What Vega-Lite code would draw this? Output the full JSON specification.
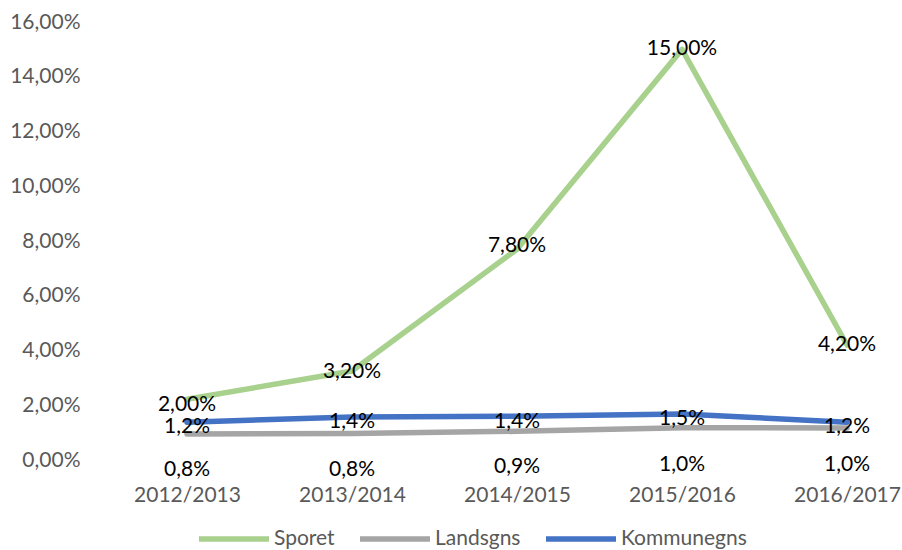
{
  "$schema": "https://vega.github.io/schema/vega-lite/v6.json",
  "width": 800,
  "height": 438,
  "autosize": {"type": "none"},
  "padding": {"left": 90, "top": 22, "right": 12, "bottom": 90},
  "background": "white",
  "config": {"view": {"stroke": null}, "font": "Lato"},
  "data": {"values": [
    {"period": "2012/2013", "series": "Sporet", "value": 2.22, "labelValue": 2.0, "label": "2,00%"},
    {"period": "2013/2014", "series": "Sporet", "value": 3.25, "labelValue": 3.2, "label": "3,20%"},
    {"period": "2014/2015", "series": "Sporet", "value": 7.7, "labelValue": 7.8, "label": "7,80%"},
    {"period": "2015/2016", "series": "Sporet", "value": 15.0, "labelValue": 15.0, "label": "15,00%"},
    {"period": "2016/2017", "series": "Sporet", "value": 4.2, "labelValue": 4.2, "label": "4,20%"},
    {"period": "2012/2013", "series": "Landsgns", "value": 0.95, "labelValue": 0.8, "label": "0,8%"},
    {"period": "2013/2014", "series": "Landsgns", "value": 0.97, "labelValue": 0.8, "label": "0,8%"},
    {"period": "2014/2015", "series": "Landsgns", "value": 1.05, "labelValue": 0.9, "label": "0,9%"},
    {"period": "2015/2016", "series": "Landsgns", "value": 1.18, "labelValue": 1.0, "label": "1,0%"},
    {"period": "2016/2017", "series": "Landsgns", "value": 1.17, "labelValue": 1.0, "label": "1,0%"},
    {"period": "2012/2013", "series": "Kommunegns", "value": 1.38, "labelValue": 1.2, "label": "1,2%"},
    {"period": "2013/2014", "series": "Kommunegns", "value": 1.57, "labelValue": 1.4, "label": "1,4%"},
    {"period": "2014/2015", "series": "Kommunegns", "value": 1.6, "labelValue": 1.4, "label": "1,4%"},
    {"period": "2015/2016", "series": "Kommunegns", "value": 1.68, "labelValue": 1.5, "label": "1,5%"},
    {"period": "2016/2017", "series": "Kommunegns", "value": 1.38, "labelValue": 1.2, "label": "1,2%"}
  ]},
  "encoding": {
    "x": {
      "field": "period", "type": "ordinal",
      "scale": {"type": "point", "range": [97, 757], "padding": 0},
      "axis": {"title": null, "domain": false, "ticks": false, "labelAngle": 0, "labelPadding": 24,
               "labelFontSize": 21, "labelColor": "#595959", "labelFont": "Lato"}
    }
  },
  "layer": [
    {
      "mark": {"type": "line", "strokeWidth": 5.5, "strokeCap": "round", "strokeJoin": "round"},
      "encoding": {
        "y": {"field": "value", "type": "quantitative",
              "scale": {"domain": [0, 16], "nice": false},
              "axis": {"title": null, "values": [0, 2, 4, 6, 8, 10, 12, 14, 16], "grid": false,
                       "domain": false, "ticks": false, "labelPadding": 10, "labelFontSize": 21,
                       "labelColor": "#595959", "labelFont": "Lato",
                       "labelExpr": "replace(format(datum.value, '.2f'), '.', ',') + '%'"}},
        "color": {"field": "series", "type": "nominal",
                  "scale": {"domain": ["Sporet", "Landsgns", "Kommunegns"],
                            "range": ["#a9d18e", "#a5a5a5", "#4472c4"]},
                  "legend": {"title": null, "orient": "none", "direction": "horizontal",
                             "legendX": 106, "legendY": 479, "symbolType": "stroke",
                             "symbolSize": 4900, "symbolStrokeWidth": 5.5, "labelFontSize": 21,
                             "labelColor": "#595959", "labelFont": "Lato", "columnPadding": 14,
                             "labelOffset": 2}},
        "order": {"field": "series", "type": "nominal"},
        "detail": {"field": "series"}
      }
    },
    {
      "transform": [{"filter": "datum.series !== 'Landsgns'"}],
      "mark": {"type": "text", "fontSize": 21, "color": "#000000", "font": "Lato", "baseline": "middle"},
      "encoding": {
        "y": {"field": "labelValue", "type": "quantitative"},
        "text": {"field": "label"}
      }
    },
    {
      "transform": [{"filter": "datum.series === 'Landsgns'"}],
      "mark": {"type": "text", "fontSize": 21, "color": "#000000", "font": "Lato", "baseline": "middle", "dy": 32},
      "encoding": {
        "y": {"field": "labelValue", "type": "quantitative"},
        "text": {"field": "label"}
      }
    }
  ]
}
